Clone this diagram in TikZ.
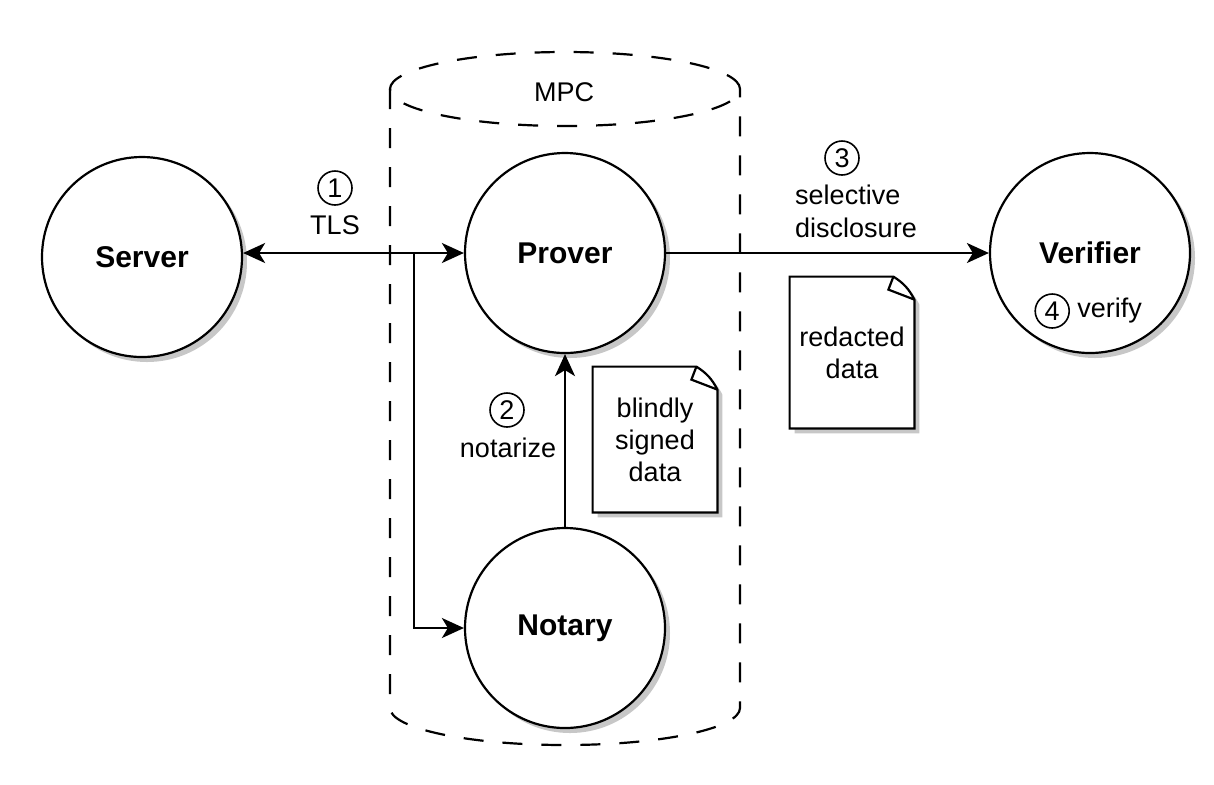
\documentclass[tikz,border=0pt]{standalone}
\usepackage{fontspec}
\setmainfont{Liberation Sans}
\usepackage{tikz}
\usetikzlibrary{arrows.meta, positioning, shadows, backgrounds}
\tikzstyle{party} = [circle, draw, line width=1.1pt, fill=white, minimum size=100pt, font=\fontsize{15}{18}\selectfont\bfseries, drop shadow={shadow xshift=2.5pt, shadow yshift=-2.5pt, fill=black!22, opacity=1}]
\tikzstyle{arrow} = [line width=1.1pt, -{Stealth[length=11pt, width=10pt, inset=3pt]}]
\tikzstyle{dblarrow} = [line width=1.1pt, {Stealth[length=11pt, width=10pt, inset=3pt]}-{Stealth[length=11pt, width=10pt, inset=3pt]}]
\tikzstyle{lbl} = [font=\fontsize{13.5}{16.5}\selectfont, align=center, inner sep=0pt]
\tikzstyle{num} = [circle, draw, line width=0.8pt, minimum size=17pt, inner sep=0pt, font=\fontsize{13.5}{16}\selectfont]
\tikzstyle{line} = [line width=1.1pt]

\begin{document}
\begin{tikzpicture}[x=0.5pt, y=-0.5pt]

        \tikzstyle{doc} = [rectangle, minimum width=62pt, inner sep=0pt, align=center, font=\fontsize{13.5}{16}\selectfont]
        \tikzstyle{docline} = [line width=1.1pt, fill=white, drop shadow={shadow xshift=2.5pt, shadow yshift=-2.5pt, fill=black!22, opacity=1}]
        \tikzstyle{mpcline} = [line width=1.1pt, dash pattern=on 10pt off 9.5pt]

        \useasboundingbox (0,0) rectangle (1214,784);

        % MPC cylinder
        \draw [mpcline] (390,89) -- (390,708) arc [start angle=180, end angle=360, x radius=87.5pt, y radius=18.5pt] -- (740,89);
        \draw [mpcline] (565,89) ellipse [x radius=87.5pt, y radius=18.5pt];
        \node (mpc) [lbl] at (564,92) {MPC};

        \node (server) [party] at (142,257) {Server};
        \node (prover) [party] at (565,253) {Prover};
        \node (notary) [party] at (565,628) {Notary};
        \node (verifier) [party] at (1090,253) {Verifier};

        \node (verify) [lbl, anchor=west] at (1077,311) {verify};
        \node (n4) [num, left=3.5pt of verify] {4};

        \node (blind) [doc, minimum height=72.5pt] at (655,439.5) {blindly\\signed\\data};
        \node (redact) [doc, minimum height=75.5pt] at (852,352.5) {redacted\\data};

        % Documents with folded corner
        \begin{scope}[on background layer]
            \foreach \d in {blind, redact} {
                \draw [docline] (\d.north west) -- ([xshift=-10.5pt]\d.north east) to[bend left=15] ([yshift=-11.5pt]\d.north east) -- (\d.south east) -- (\d.south west) -- cycle;
                \draw [line] ([xshift=-10.5pt]\d.north east) -- ([xshift=-13pt, yshift=-6.5pt]\d.north east) -- ([yshift=-11.5pt]\d.north east);
            }
        \end{scope}

        % Arrows
        \draw [dblarrow] (server.east |- prover.west) -- (prover.west);
        \coordinate (split) at ([xshift=-25pt]prover.west);
        \draw [arrow] (split) |- (notary.west);
        \draw [arrow] (notary.north) -- (prover.south);
        \draw [arrow] (prover.east) -- (verifier.west);

        % Step labels
        \node (tls) [lbl] at (335,225) {TLS};
        \node (n1) [num] at (335,188) {1};
        \node (notarize) [lbl] at (508,448) {notarize};
        \node (n2) [num] at (507,410) {2};
        \node (disclose) [lbl, align=left] at (856,211) {selective\\disclosure};
        \node (n3) [num] at (842,158) {3};

    \end{tikzpicture}
\end{document}
